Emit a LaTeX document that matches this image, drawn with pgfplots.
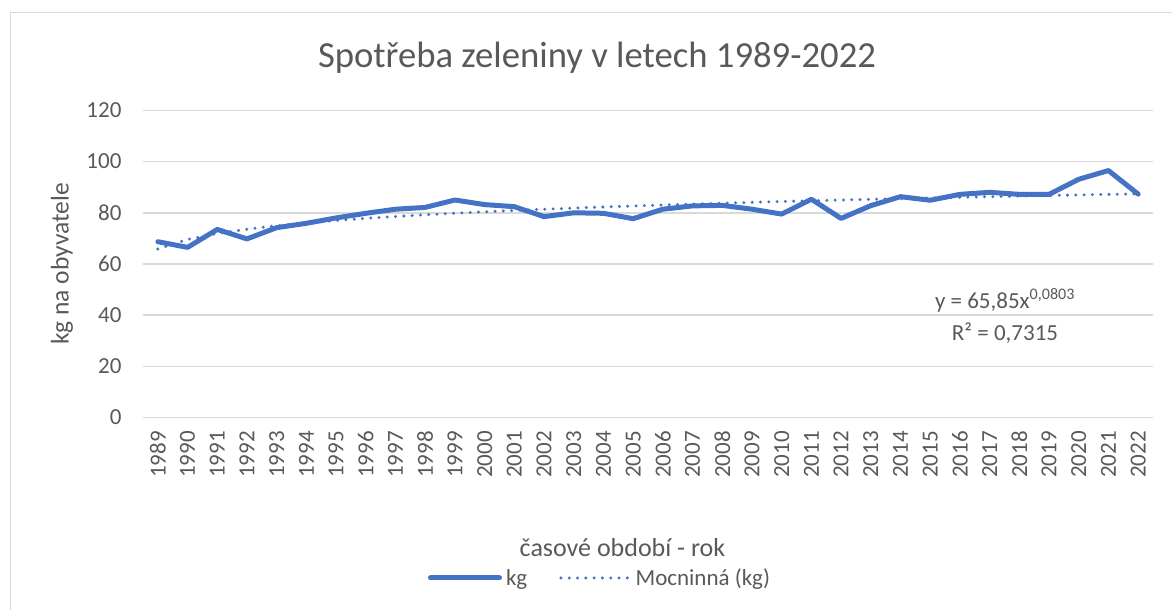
\documentclass[border=0pt]{standalone}
\usepackage{fontspec}
\setmainfont{Carlito}
\usepackage{pgfplots}
\pgfplotsset{compat=1.18}
\definecolor{txt}{HTML}{595959}
\definecolor{gridc}{HTML}{D9D9D9}
\definecolor{blu}{HTML}{4472C4}
\pgfplotsset{longleg/.style={legend image code/.code={\draw[##1] (0pt,0pt) -- (69pt,0pt);}}}
\begin{document}
\begin{tikzpicture}[x=1pt,y=1pt]
\useasboundingbox (0,0) rectangle (1172,610);
% chart area border (left and top only visible)
\draw[gridc, line width=1.3pt] (10.7,-5) -- (10.7,597.7) -- (1180,597.7);
\begin{axis}[
  at={(143pt,192.4pt)}, anchor=south west,
  scale only axis, width=1010pt, height=307.2pt,
  xmin=-0.5, xmax=33.5, ymin=0, ymax=120,
  xtick={0,...,33},
  xticklabels={1989,1990,1991,1992,1993,1994,1995,1996,1997,1998,1999,2000,2001,2002,2003,2004,2005,2006,2007,2008,2009,2010,2011,2012,2013,2014,2015,2016,2017,2018,2019,2020,2021,2022},
  ytick={0,20,...,120},
  xmajorgrids=false,
  ymajorgrids=true, major grid style={color=gridc, line width=1.6pt},
  axis line style={draw=none},
  major tick length=0pt,
  tick style={draw=none},
  /pgf/number format/assume math mode=true,
  ticklabel style={font=\fontsize{23}{27}\selectfont, text=txt},
  x tick label style={rotate=90, anchor=east},
  xticklabel shift=10pt,
  yticklabel shift=18pt,
  clip=false,
  longleg,
  legend columns=2,
  legend style={draw=none, fill=none, at={(0.4535,-0.522)}, anchor=center,
    font=\fontsize{23}{27}\selectfont, text=txt,
    /tikz/every even column/.append style={column sep=28pt},
    nodes={inner sep=4pt}},
]
\addplot[blu, line width=5pt, line join=round, line cap=round]
coordinates {
(0,68.7)(1,66.5)(2,73.5)(3,69.8)(4,74.2)(5,75.9)(6,78.0)(7,79.8)(8,81.4)(9,82.1)
(10,85.0)(11,83.2)(12,82.4)(13,78.5)(14,80.0)(15,79.8)(16,77.7)(17,81.4)(18,82.7)(19,82.9)
(20,81.4)(21,79.5)(22,85.3)(23,77.8)(24,82.8)(25,86.3)(26,84.9)(27,87.2)(28,88.0)(29,87.2)
(30,87.2)(31,93.1)(32,96.5)(33,87.3)
};
\addlegendentry{kg}
\addplot[blu, line width=3.3pt, line cap=round, dash pattern=on 0pt off 8.3pt]
coordinates {
(0,65.85)(1,69.62)(2,71.92)(3,73.60)(4,74.93)(5,76.04)(6,76.99)(7,77.82)(8,78.56)(9,79.22)
(10,79.83)(11,80.39)(12,80.91)(13,81.39)(14,81.85)(15,82.27)(16,82.67)(17,83.05)(18,83.41)(19,83.76)
(20,84.09)(21,84.40)(22,84.70)(23,84.99)(24,85.27)(25,85.54)(26,85.80)(27,86.05)(28,86.30)(29,86.53)
(30,86.76)(31,86.98)(32,87.20)(33,87.40)
};
\addlegendentry{Mocninná (kg)}
\end{axis}
\node[anchor=base, text=txt, font=\fontsize{36.7}{40}\selectfont] at (597,542) {Spotřeba zeleniny v letech 1989-2022};
\node[rotate=90, text=txt, font=\fontsize{25.5}{30}\selectfont] at (62,346) {kg na obyvatele};
\node[anchor=base, text=txt, font=\fontsize{26}{30}\selectfont] at (622.5,53.3) {časové období - rok};
\node[anchor=base, text=txt, font=\fontsize{23}{27}\selectfont] at (1005,301) {y = 65,85x\textsuperscript{0,0803}};
\node[anchor=base, text=txt, font=\fontsize{23}{27}\selectfont] at (1005,269) {R² = 0,7315};
\end{tikzpicture}
\end{document}
